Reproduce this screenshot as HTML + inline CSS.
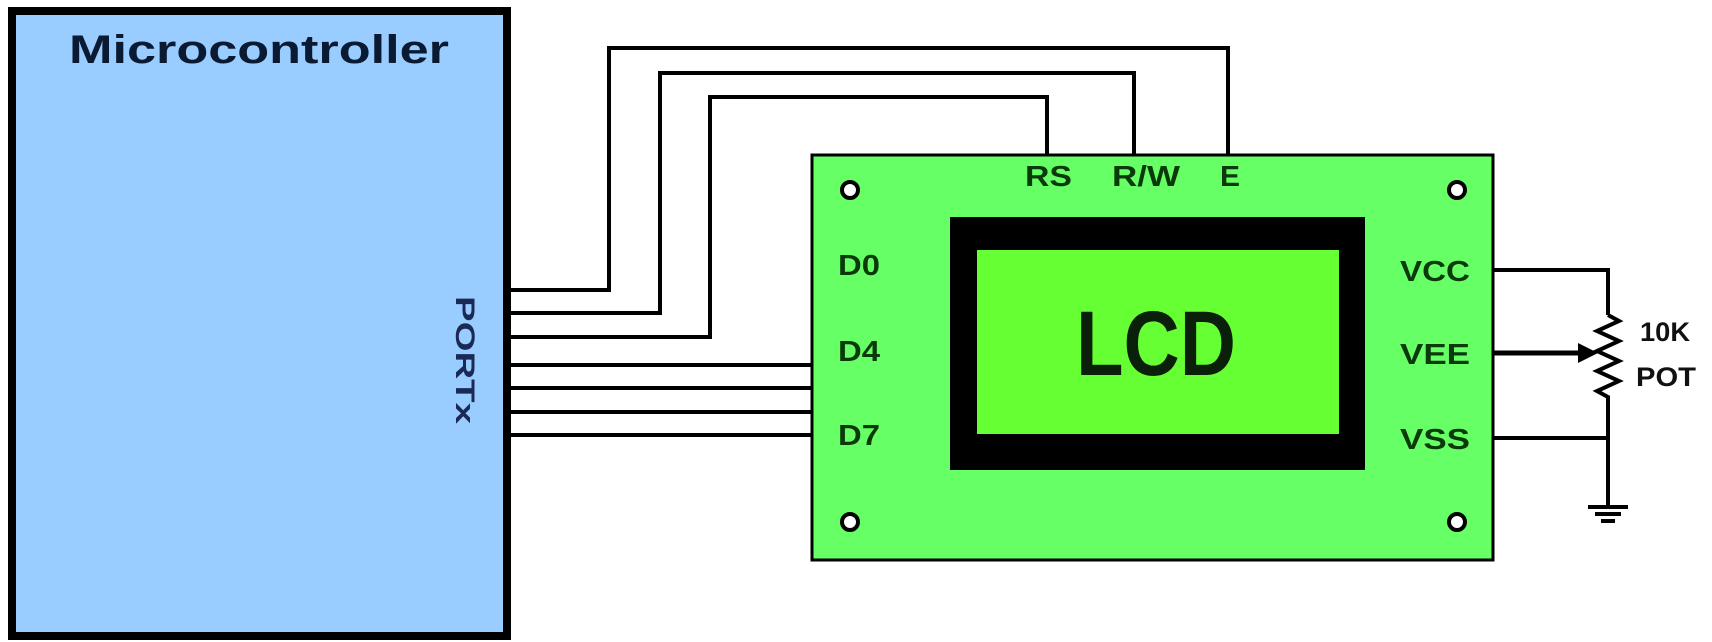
<!DOCTYPE html>
<html><head><style>html,body{margin:0;padding:0;background:#fff;}svg{display:block}</style></head>
<body>
<svg width="1712" height="642" viewBox="0 0 1712 642" xmlns="http://www.w3.org/2000/svg" font-family="Liberation Sans, sans-serif" font-weight="bold">
<rect x="12" y="11" width="495" height="625" fill="#99ccff" stroke="#000" stroke-width="8"/>
<text x="259" y="63" font-size="40" text-anchor="middle" fill="#0a1a33" textLength="380" lengthAdjust="spacingAndGlyphs">Microcontroller</text>
<text transform="translate(456,360) rotate(90)" font-size="27" text-anchor="middle" fill="#1a2a55" textLength="128" lengthAdjust="spacingAndGlyphs">PORTx</text>
<g stroke="#000" stroke-width="4" fill="none">
<polyline points="509,290 609,290 609,48 1228,48 1228,155"/>
<polyline points="509,313 660,313 660,73 1134,73 1134,155"/>
<polyline points="509,337 710,337 710,97 1047,97 1047,155"/>
<line x1="509" y1="365" x2="812" y2="365"/>
<line x1="509" y1="388" x2="812" y2="388"/>
<line x1="509" y1="412" x2="812" y2="412"/>
<line x1="509" y1="435" x2="812" y2="435"/>
<polyline points="1493,270 1608,270 1608,315"/>
<polyline points="1608,315 1619,321 1597,331 1619,341 1597,351 1619,361 1597,371 1619,381 1597,391 1608,397 1608,507"/>
<line x1="1493" y1="438" x2="1608" y2="438"/>
<line x1="1588" y1="507" x2="1628" y2="507"/>
<line x1="1595" y1="514" x2="1621" y2="514"/>
<line x1="1601" y1="521" x2="1615" y2="521"/>
</g>
<line x1="1493" y1="353" x2="1580" y2="353" stroke="#000" stroke-width="5"/>
<polygon points="1578,343 1598,353 1578,363" fill="#000"/>
<rect x="812" y="155" width="681" height="405" fill="#66ff66" stroke="#000" stroke-width="3"/>
<rect x="950" y="217" width="415" height="253" fill="#000"/>
<rect x="977" y="250" width="362" height="184" fill="#66ff33"/>
<text x="1156" y="375" font-size="92" text-anchor="middle" fill="#0a200a" textLength="160" lengthAdjust="spacingAndGlyphs">LCD</text>
<g fill="#fff" stroke="#000" stroke-width="4">
<circle cx="850" cy="190" r="8"/><circle cx="1457" cy="190" r="8"/>
<circle cx="850" cy="522" r="8"/><circle cx="1457" cy="522" r="8"/>
</g>
<g fill="#0a3a0a" font-size="29">
<text x="1025" y="186" textLength="47" lengthAdjust="spacingAndGlyphs">RS</text>
<text x="1112" y="186" textLength="68" lengthAdjust="spacingAndGlyphs">R/W</text>
<text x="1220" y="186" textLength="20" lengthAdjust="spacingAndGlyphs">E</text>
<text x="838" y="275" textLength="42" lengthAdjust="spacingAndGlyphs">D0</text>
<text x="838" y="361" textLength="42" lengthAdjust="spacingAndGlyphs">D4</text>
<text x="838" y="445" textLength="42" lengthAdjust="spacingAndGlyphs">D7</text>
<text x="1400" y="281" textLength="70" lengthAdjust="spacingAndGlyphs">VCC</text>
<text x="1400" y="364" textLength="70" lengthAdjust="spacingAndGlyphs">VEE</text>
<text x="1400" y="449" textLength="70" lengthAdjust="spacingAndGlyphs">VSS</text>
</g>
<g fill="#111" font-size="27">
<text x="1640" y="341" textLength="50" lengthAdjust="spacingAndGlyphs">10K</text>
<text x="1636" y="386" textLength="60" lengthAdjust="spacingAndGlyphs">POT</text>
</g>
</svg>
</body></html>
